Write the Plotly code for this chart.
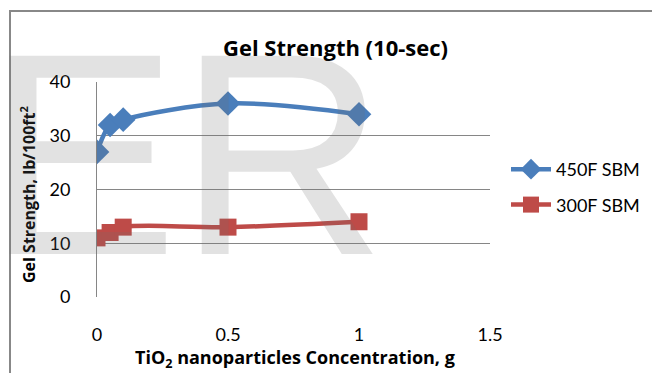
import plotly.graph_objects as go

# ---- data ----
conc = [0, 0.05, 0.1, 0.5, 1.0]
gel_450 = [27, 32, 33, 36, 34]
gel_300 = [11, 12, 13, 13, 14]
series_names = ["450F SBM", "300F SBM"]
x_ticks = [0, 0.5, 1, 1.5]
x_tick_text = ["0", "0.5", "1", "1.5"]
y_ticks = [0, 10, 20, 30, 40]

W, H = 652, 373
L, R, T, B = 97, 162, 82, 76
PW, PH = W - L - R, H - T - B

def px(x):
    return (x - L) / PW

def py(y):
    return (H - B - y) / PH

FONT = "Lato, Carlito, Calibri, sans-serif"
BOLD = "Open Sans, sans-serif"
GRID = "#868686"

fig = go.Figure()
fig.add_trace(go.Scatter(
    x=conc, y=gel_450, name=series_names[0], mode="lines+markers",
    line=dict(color="#4A7EBB", width=4.5, shape="spline", smoothing=1),
    marker=dict(symbol="diamond", size=19, color="#4A7EBB"),
    legendgroup="a"))
fig.add_trace(go.Scatter(
    x=conc, y=gel_300, name=series_names[1], mode="lines+markers",
    line=dict(color="#BE4B48", width=4.5, shape="spline", smoothing=1),
    marker=dict(symbol="square", size=17, color="#BE4B48"),
    legendgroup="b"))

fig.update_layout(
    width=W, height=H,
    margin=dict(l=L, r=R, t=T, b=B, autoexpand=False),
    paper_bgcolor="white", plot_bgcolor="white",
    font=dict(family=FONT, size=18, color="black"),
    showlegend=True,
    legend=dict(x=px(506), y=py(151), xanchor="left", yanchor="top",
                font=dict(size=18), tracegroupgap=9, itemwidth=40,
                bgcolor="rgba(0,0,0,0)"),
    xaxis=dict(range=[0, 1.5], tickvals=x_ticks, ticktext=x_tick_text,
               showgrid=False, zeroline=False, showline=False,
               ticks="", ticklabelstandoff=25, tickfont=dict(size=18)),
    yaxis=dict(range=[0, 40], tickvals=y_ticks, showgrid=True,
               gridcolor=GRID, gridwidth=1, zeroline=False,
               showline=True, linecolor=GRID, linewidth=1,
               ticks="", ticklabelstandoff=22, tickfont=dict(size=18)),
)

# outer chart border
fig.add_shape(type="rect", xref="paper", yref="paper",
              x0=px(10), x1=px(700), y0=py(420), y1=py(11),
              line=dict(color="#888888", width=2), fillcolor="rgba(0,0,0,0)",
              layer="below")

annotations = [
    dict(text="<b>Gel Strength (10-sec)</b>", x=px(335), y=py(47),
         font=dict(family=BOLD, size=22)),
    dict(text="<b>TiO<sub>2</sub> nanoparticles Concentration, g</b>",
         x=px(295), y=py(358), font=dict(family=BOLD, size=18)),
    dict(text="<b>Gel Strength, lb/100ft<sup>2</sup></b>", x=px(28),
         y=py(194), textangle=-90, font=dict(family=BOLD, size=16)),
    dict(text="ER", x=px(-16), y=py(154), xanchor="left",
         font=dict(family="Liberation Sans, Arial", size=288,
                   color="rgba(110,110,110,0.2)")),
]
for a in annotations:
    a.setdefault("xanchor", "center")
    fig.add_annotation(xref="paper", yref="paper", showarrow=False,
                       yanchor="middle", **a)

fig.write_html("out.html")
